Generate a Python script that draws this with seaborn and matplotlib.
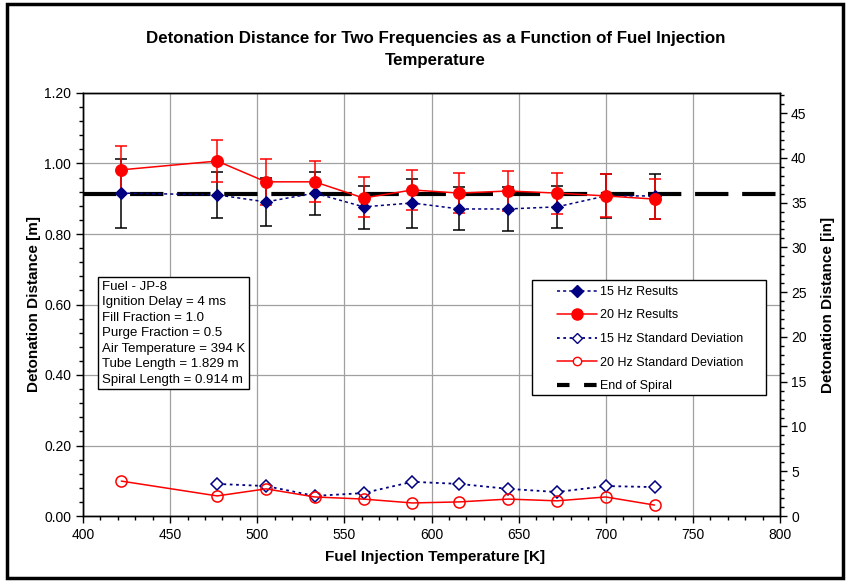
import matplotlib
matplotlib.use("Agg")
import matplotlib.pyplot as plt
from matplotlib.ticker import MultipleLocator
from matplotlib.lines import Line2D
from matplotlib.patches import Rectangle
import numpy as np
import pandas as pd
import seaborn as sns

# ---- data ----
temps = [422, 477, 505, 533, 561, 589, 616, 644, 672, 700, 728]
mean15 = [0.916, 0.911, 0.891, 0.916, 0.877, 0.888, 0.871, 0.871, 0.877, 0.908, 0.908]
hi15 = [1.013, 0.976, 0.959, 0.976, 0.936, 0.956, 0.932, 0.933, 0.936, 0.970, 0.970]
lo15 = [0.817, 0.845, 0.823, 0.854, 0.814, 0.817, 0.811, 0.809, 0.817, 0.845, 0.843]
mean20 = [0.982, 1.007, 0.948, 0.948, 0.902, 0.925, 0.916, 0.922, 0.916, 0.908, 0.899]
hi20 = [1.050, 1.067, 1.013, 1.007, 0.962, 0.982, 0.973, 0.979, 0.973, 0.970, 0.956]
lo20 = [0.914, 0.948, 0.883, 0.891, 0.848, 0.868, 0.860, 0.865, 0.857, 0.848, 0.843]
temps_sd15 = [477, 505, 533, 561, 589, 616, 644, 672, 700, 728]
sd15 = [0.091, 0.085, 0.057, 0.065, 0.097, 0.091, 0.077, 0.068, 0.085, 0.082]
sd20 = [0.099, 0.057, 0.077, 0.054, 0.048, 0.037, 0.040, 0.048, 0.043, 0.054, 0.031]
spiral_end = 0.914
info_lines = ["Fuel - JP-8", "Ignition Delay = 4 ms", "Fill Fraction = 1.0",
              "Purge Fraction = 0.5", "Air Temperature = 394 K",
              "Tube Length = 1.829 m", "Spiral Length = 0.914 m"]

sns.set_style("white")
plt.rcParams['font.family'] = ['Liberation Sans', 'DejaVu Sans']
for k in ['text.color', 'axes.labelcolor', 'xtick.color', 'ytick.color']:
    plt.rcParams[k] = 'black'

navy = '#000080'
red = '#ff0000'

W, H = 850, 583
L, R, T, B = 83, 780, 93, 516

fig = plt.figure(figsize=(8.5, 5.83), dpi=100)
ax = fig.add_axes([L / W, 1 - B / H, (R - L) / W, (B - T) / H])


def axx(px):
    return (px - L) / (R - L)


def axy(py):
    return (B - py) / (B - T)


# border around figure
fig.patches.append(Rectangle((0.008, 0.009), 0.984, 0.984, transform=fig.transFigure,
                             fill=False, edgecolor='black', linewidth=2.5, zorder=10))

ax.set_xlim(400, 800)
ax.set_ylim(0, 1.2)
ax.grid(True, color='#a0a0a0', linewidth=0.9)
ax.set_axisbelow(True)

df15 = pd.DataFrame({'T': temps, 'd': mean15})
df20 = pd.DataFrame({'T': temps, 'd': mean20})
dsd15 = pd.DataFrame({'T': temps_sd15, 'd': sd15})
dsd20 = pd.DataFrame({'T': temps, 'd': sd20})

# error bars
e15 = np.array([np.array(mean15) - np.array(lo15), np.array(hi15) - np.array(mean15)])
e20 = np.array([np.array(mean20) - np.array(lo20), np.array(hi20) - np.array(mean20)])
ax.errorbar(temps, mean15, yerr=e15, fmt='none', ecolor='black', elinewidth=1.1,
            capsize=4, capthick=1.1, zorder=3)
ax.errorbar(temps, mean20, yerr=e20, fmt='none', ecolor=red, elinewidth=1.1,
            capsize=4, capthick=1.1, zorder=4)

# end of spiral
ax.axhline(spiral_end, color='black', linewidth=3, dashes=(8, 3.3), zorder=5)

sns.lineplot(data=df15, x='T', y='d', ax=ax, color=navy, linestyle=(0, (2, 2)),
             linewidth=1.1, marker='D', markersize=6, markeredgecolor=navy,
             markerfacecolor=navy, zorder=6)
sns.lineplot(data=df20, x='T', y='d', ax=ax, color=red, linewidth=1.1,
             marker='o', markersize=8.5, markeredgecolor=red, markerfacecolor=red, zorder=7)
sns.lineplot(data=dsd15, x='T', y='d', ax=ax, color=navy, linestyle=(0, (1.5, 2)),
             linewidth=1.3, marker='D', markersize=6, markeredgecolor=navy,
             markerfacecolor='white', markeredgewidth=1.1, zorder=6)
sns.lineplot(data=dsd20, x='T', y='d', ax=ax, color=red, linewidth=1.1,
             marker='o', markersize=8, markeredgecolor=red, markerfacecolor='none',
             markeredgewidth=1.1, zorder=7)

ax.xaxis.set_major_locator(MultipleLocator(50))
ax.xaxis.set_minor_locator(MultipleLocator(10))
ax.yaxis.set_major_locator(MultipleLocator(0.2))
ax.yaxis.set_minor_locator(MultipleLocator(0.04))
ax.yaxis.set_major_formatter(matplotlib.ticker.FormatStrFormatter('%.2f'))
ax.tick_params(axis='both', which='major', direction='out', length=5, width=1,
               labelsize=10, color='black', bottom=True, left=True)
ax.tick_params(axis='both', which='minor', direction='out', length=3, width=1,
               color='black', bottom=True, left=True)
for s in ax.spines.values():
    s.set_color('black')
    s.set_linewidth(1)

ax.set_xlabel('Fuel Injection Temperature [K]', fontsize=11, fontweight='bold', labelpad=7)
ax.xaxis.set_label_coords(axx(435), -0.081)
ax.set_ylabel('Detonation Distance [m]', fontsize=11, fontweight='bold', labelpad=2)

ax2 = ax.twinx()
ax2.set_ylim(0, 1.2 / 0.0254)
ax2.yaxis.set_major_locator(MultipleLocator(5))
ax2.yaxis.set_minor_locator(MultipleLocator(1))
ax2.tick_params(axis='y', which='major', direction='out', length=5, width=1,
                labelsize=10, color='black', right=True, pad=3)
ax2.tick_params(axis='y', which='minor', direction='out', length=3, width=1,
                color='black', right=True)
ax2.set_ylabel('Detonation Distance [in]', fontsize=11, fontweight='bold', labelpad=10)
ax2.grid(False)
for s in ax2.spines.values():
    s.set_color('black')
    s.set_linewidth(1)

fig.text(0.512, 0.915, 'Detonation Distance for Two Frequencies as a Function of Fuel Injection\nTemperature',
         ha='center', va='center', fontsize=12.2, fontweight='bold', linespacing=1.6)

# info box
ax.text(axx(102), axy(281), "\n".join(info_lines), transform=ax.transAxes, fontsize=9.5,
        va='top', ha='left', linespacing=1.38, zorder=8,
        bbox=dict(boxstyle='square,pad=0.3', facecolor='white', edgecolor='black', linewidth=1))

# legend frame (drawn as a box) and legend entries
ax2.add_patch(Rectangle((axx(532), axy(395)), axx(766) - axx(532), axy(280) - axy(395),
                        transform=ax2.transAxes, facecolor='white', edgecolor='black',
                        linewidth=1, zorder=15))
handles = [
    Line2D([], [], color=navy, linestyle=(0, (2, 2)), linewidth=1.1, marker='D',
           markersize=6, markerfacecolor=navy, markeredgecolor=navy),
    Line2D([], [], color=red, linewidth=1.1, marker='o', markersize=8,
           markerfacecolor=red, markeredgecolor=red),
    Line2D([], [], color=navy, linestyle=(0, (1.5, 2)), linewidth=1.3, marker='D',
           markersize=5, markerfacecolor='white', markeredgecolor=navy),
    Line2D([], [], color=red, linewidth=1.1, marker='o', markersize=6,
           markerfacecolor='white', markeredgecolor=red),
    Line2D([], [], color='black', linewidth=3, dashes=(3, 3.5)),
]
labels = ['15 Hz Results', '20 Hz Results', '15 Hz Standard Deviation',
          '20 Hz Standard Deviation', 'End of Spiral']
leg = ax2.legend(handles, labels, loc='upper left',
                 bbox_to_anchor=(axx(557), axy(286)),
                 borderaxespad=0, borderpad=0,
                 fontsize=9, frameon=False, handlelength=3.2, labelspacing=0.92,
                 handletextpad=0.2)
leg.set_zorder(20)

fig.savefig('out.png', dpi=100)
